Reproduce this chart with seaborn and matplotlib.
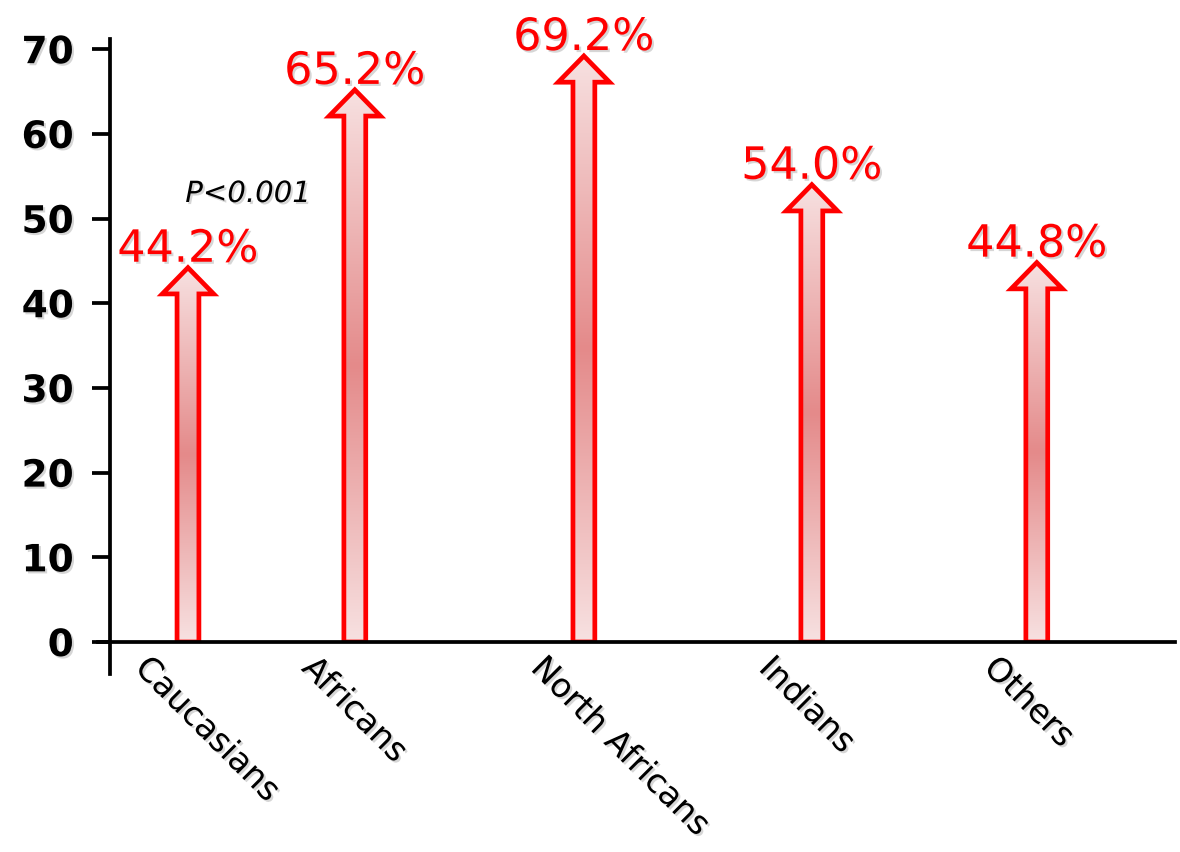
import numpy as np
import pandas as pd
import matplotlib
matplotlib.use("Agg")
import matplotlib.pyplot as plt
import matplotlib.patheffects as pe
from matplotlib.patches import Polygon
from matplotlib.colors import LinearSegmentedColormap
from matplotlib.transforms import ScaledTranslation
import seaborn as sns

# Data
groups = ["Caucasians", "Africans", "North Africans", "Indians", "Others"]
rates = [44.2, 65.2, 69.2, 54.0, 44.8]
y_ticks = [0, 10, 20, 30, 40, 50, 60, 70]
p_text = "P<0.001"

# Horizontal slot of each group along the axis (layout only)
slots = [0.0, 0.732, 1.737, 2.737, 3.724]

sns.set_theme(style="white")
plt.rcParams["font.family"] = ["DejaVu Sans"]

fig = plt.figure(figsize=(11.8, 8.53), dpi=100)
ax = fig.add_axes([0.083, 0.2462, 0.9127, 0.7069])

df = pd.DataFrame({"slot": slots, "rate": rates})
sns.barplot(data=df, x="slot", y="rate", native_scale=True, width=0.131,
            color="white", ax=ax)

ax.set_xlim(-0.395, 4.33)
ax.set_ylim(0, 71.2)

shadow = [pe.withSimplePatchShadow(offset=(1.5, -1.5), shadow_rgbFace="#8a8a8a", alpha=0.35)]

# Turn each bar into an outlined arrow with a vertical gradient fill
grad_cmap = LinearSegmentedColormap.from_list("shaft", ["#f7e1e1", "#e48a8a", "#f7e1e1"])
grad = np.linspace(0, 1, 256).reshape(-1, 1)
head_h = 3.1
for bar in list(ax.patches):
    bar.set_visible(False)
    x0, w, top = bar.get_x(), bar.get_width(), bar.get_height()
    xc, hs = x0 + w / 2, w / 2
    hh = hs * 2.35
    verts = [(xc - hs, 0), (xc - hs, top - head_h), (xc - hh, top - head_h), (xc, top),
             (xc + hh, top - head_h), (xc + hs, top - head_h), (xc + hs, 0)]
    outline = Polygon(verts, closed=True, facecolor="none", edgecolor="#ff0000",
                      lw=3.4, joinstyle="miter", zorder=2)
    ax.add_patch(outline)
    img = ax.imshow(grad, cmap=grad_cmap, extent=(xc - hh, xc + hh, 0, top),
                    aspect="auto", origin="lower", zorder=1.5, interpolation="bilinear")
    img.set_clip_path(outline)
    ax.text(xc, top + 0.7, f"{top:.1f}%", color="#ff0000", fontsize=32,
            ha="center", va="baseline", path_effects=shadow, zorder=4)

ax.set_xlim(-0.395, 4.33)
ax.set_ylim(0, 71.2)

# Axes lines
sns.despine(ax=ax, top=True, right=True)
ax.spines["left"].set_position(("axes", 0.011))
ax.spines["left"].set_bounds(-3.8, 71.2)
for side in ("left", "bottom"):
    ax.spines[side].set_color("black")
    ax.spines[side].set_linewidth(2.7)

ax.set_yticks(y_ticks)
ax.tick_params(axis="y", left=True, length=13, width=2.7, pad=13,
               labelsize=27, color="black", labelcolor="black")
for lab in ax.get_yticklabels():
    lab.set_fontweight("bold")
    lab.set_path_effects(shadow)

ax.set_xticks([])
ax.set_xlabel("")
ax.set_ylabel("")

# Slanted group names under the axis
for xc, name in zip(slots, groups):
    ax.text(xc, 0, name, fontsize=24, color="black", rotation=-45,
            rotation_mode="anchor", ha="left", va="top", path_effects=shadow,
            transform=ax.get_xaxis_transform()
            + ScaledTranslation(-0.36, -0.09, fig.dpi_scale_trans))

ax.text(0.263, 52.9, p_text, fontsize=21, style="italic", color="black",
        ha="center", va="center", path_effects=shadow)

fig.savefig("out.png", dpi=100)
